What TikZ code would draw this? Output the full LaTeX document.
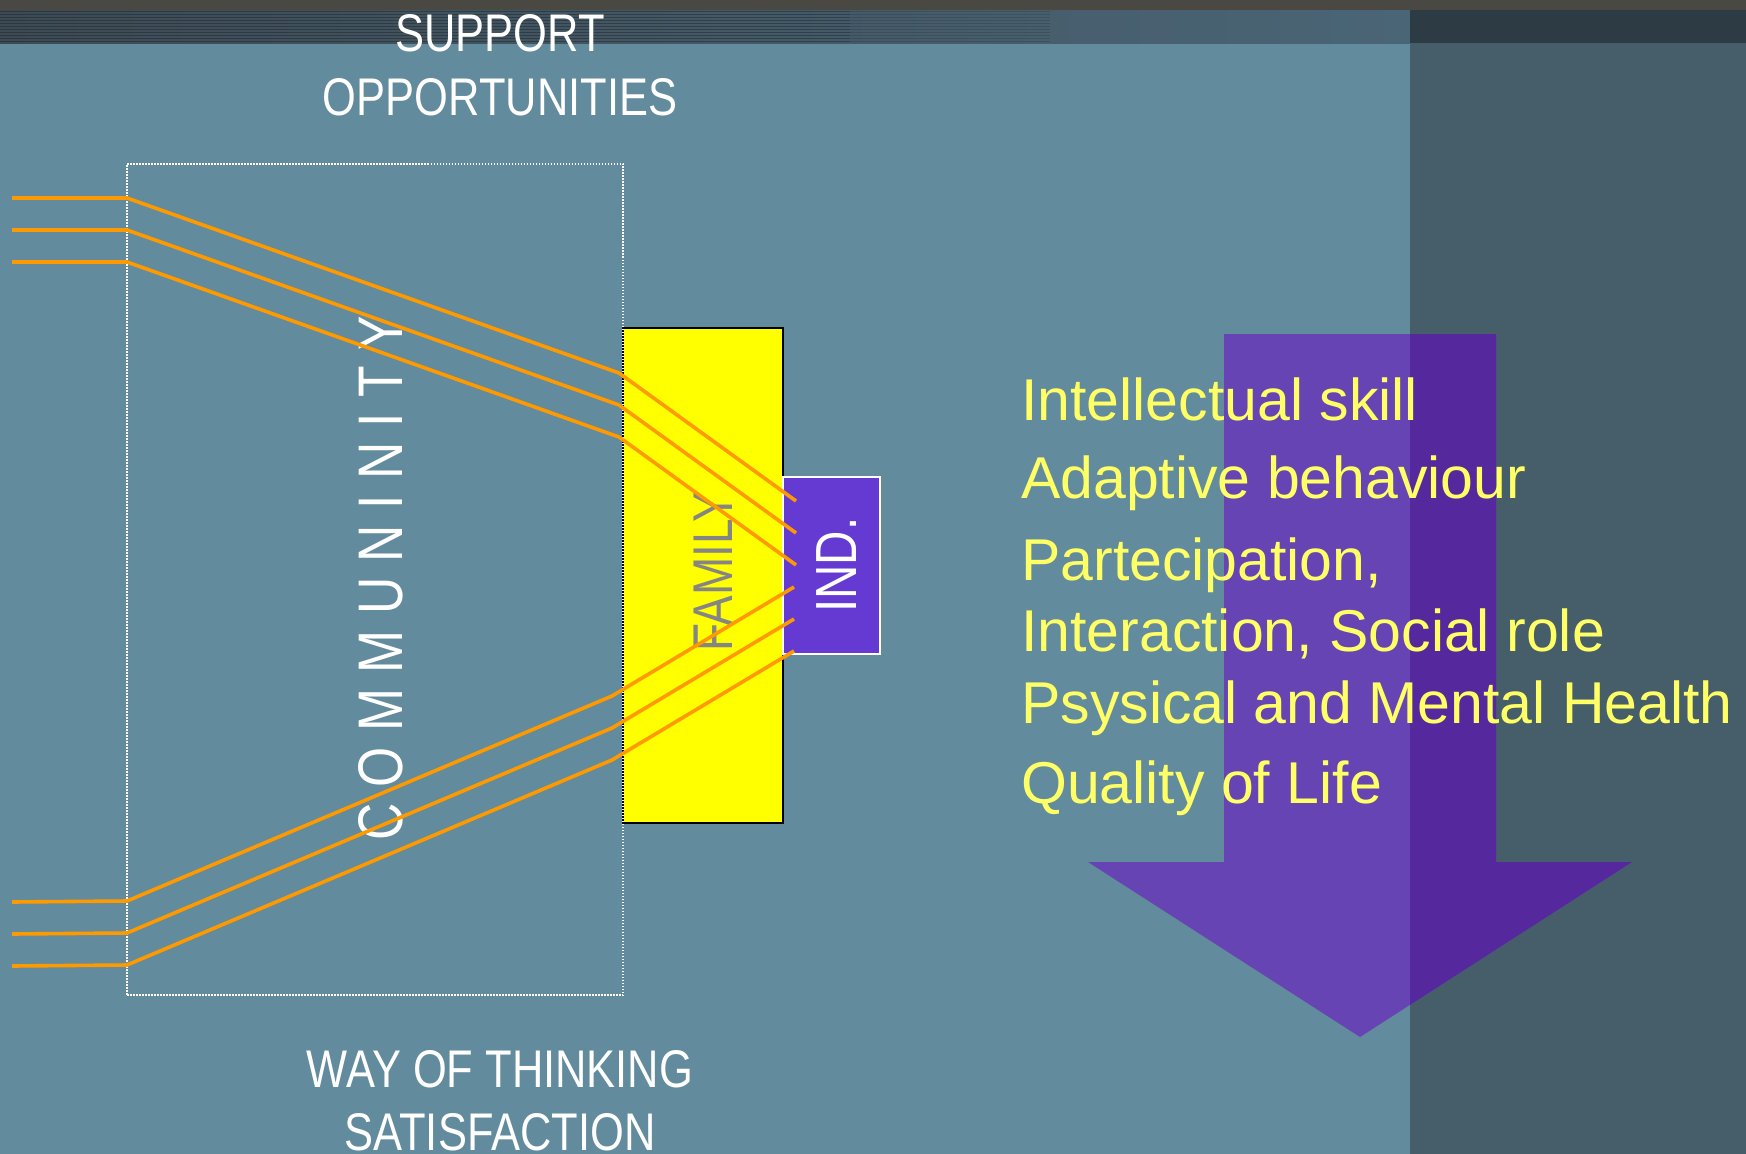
\documentclass[tikz,border=0pt]{standalone}
\usepackage{fontspec}
\setmainfont{Liberation Sans}
\newfontfamily\narrowfont[FakeStretch=0.82]{Liberation Sans}
\definecolor{bgblue}{HTML}{628B9D}
\definecolor{bgdark}{HTML}{465D6A}
\definecolor{bandbrown}{HTML}{4A4842}
\definecolor{bandleft}{HTML}{3D4A53}
\definecolor{bandmid}{HTML}{4A6576}
\definecolor{banddark}{HTML}{2C3B44}
\definecolor{stripecol}{HTML}{1F2A31}
\definecolor{arrowlight}{HTML}{6644B4}
\definecolor{arrowdark}{HTML}{55299D}
\definecolor{lineorange}{HTML}{FF9900}
\definecolor{indpurple}{HTML}{643AD3}
\definecolor{famgray}{HTML}{858585}
\definecolor{famyellow}{RGB}{255,255,0}
\definecolor{textyellow}{HTML}{FFFF66}
\def\bigarrowpath{(1224,334) -- (1496,334) -- (1496,862) -- (1632,862) -- (1360,1037) -- (1088,862) -- (1224,862) -- cycle}
\begin{document}
\begin{tikzpicture}[x=1pt,y=-1pt,
  labelnarrow/.style={text=white, font=\narrowfont\fontsize{53}{53}\selectfont, inner sep=0pt, anchor=base},
  listline/.style={text=textyellow, font=\fontsize{59}{59}\selectfont, inner sep=0pt, anchor=base west},
  orangeline/.style={draw=lineorange, line width=3.6pt, line join=round},
  dottedbox/.style={draw=white, line width=1.5pt, dash pattern=on 1.5pt off 1.5pt, minimum width=496pt, minimum height=831pt, inner sep=0pt, outer sep=0pt},
  familybox/.style={fill=famyellow, draw=black, line width=2pt, minimum width=160pt, minimum height=495pt, inner sep=0pt, outer sep=0pt},
  indbox/.style={fill=indpurple, draw=white, line width=2pt, minimum width=97pt, minimum height=177pt, inner sep=0pt, outer sep=0pt},
  vlabel/.style={rotate=90, inner sep=0pt},
]
% background
\fill[bgblue] (0,0) rectangle (1746,1154);
\useasboundingbox (0,0) rectangle (1746,1154);
% top band
\shade[left color=bandleft, right color=bandmid] (0,10) rectangle (1410,43);
\foreach \yy in {11,14,...,41} {
  \draw[stripecol, line width=1pt, opacity=0.55] (0,\yy) -- (850,\yy);
  \draw[stripecol, line width=1pt, opacity=0.25] (850,\yy) -- (1050,\yy);
}
\fill[bandbrown] (0,0) rectangle (1746,10);
\fill[banddark] (1410,10) rectangle (1746,43);
\fill[bgdark] (1410,43) rectangle (1746,1154);
% big arrow
\fill[arrowlight] \bigarrowpath;
\begin{scope}
  \clip (1410,0) rectangle (1746,1154);
  \fill[arrowdark] \bigarrowpath;
\end{scope}
% family and individual
\node[familybox] (family) at (703,575.5) {};
\node[vlabel, text=famgray, font=\narrowfont\fontsize{56}{56}\selectfont] (familylabel) at (713,572) {FAMILY};
\node[indbox] (ind) at (831.5,565.5) {};
\node[vlabel, text=white, font=\narrowfont\fontsize{58}{58}\selectfont] (indlabel) at (837,565) {IND.};
% community
\node[vlabel, text=white, font=\narrowfont\fontsize{63}{63}\selectfont] (communitylabel) at (380.5,578)
  {C\kern15.4pt O\kern15.4pt M\kern15.4pt M\kern15.4pt U\kern15.4pt N\kern15.4pt I\kern15.4pt N\kern15.4pt I\kern15.4pt T\kern15.4pt Y};
\node[dottedbox] (community) at (375,579.5) {};
% orange lines, top group
\coordinate (ta1) at (12,198);  \coordinate (tb1) at (127,198);  \coordinate (tc1) at (619,373); \coordinate (td1) at (796,501);
\coordinate (ta2) at (12,230);  \coordinate (tb2) at (127,230);  \coordinate (tc2) at (619,405); \coordinate (td2) at (796,533);
\coordinate (ta3) at (12,262);  \coordinate (tb3) at (127,262);  \coordinate (tc3) at (619,437); \coordinate (td3) at (796,565);
\draw[orangeline] (ta1) -- (tb1) -- (tc1) -- (td1);
\draw[orangeline] (ta2) -- (tb2) -- (tc2) -- (td2);
\draw[orangeline] (ta3) -- (tb3) -- (tc3) -- (td3);
% orange lines, bottom group
\coordinate (ba1) at (12,902);  \coordinate (bb1) at (127,901);  \coordinate (bc1) at (612,696); \coordinate (bd1) at (794,587);
\coordinate (ba2) at (12,934);  \coordinate (bb2) at (127,933);  \coordinate (bc2) at (612,728); \coordinate (bd2) at (794,619);
\coordinate (ba3) at (12,966);  \coordinate (bb3) at (127,965);  \coordinate (bc3) at (612,760); \coordinate (bd3) at (794,651);
\draw[orangeline] (ba1) -- (bb1) -- (bc1) -- (bd1);
\draw[orangeline] (ba2) -- (bb2) -- (bc2) -- (bd2);
\draw[orangeline] (ba3) -- (bb3) -- (bc3) -- (bd3);
% top and bottom labels
\node[labelnarrow] (support) at (500,51) {SUPPORT};
\node[labelnarrow] (opportunities) at (500,115) {OPPORTUNITIES};
\node[labelnarrow] (wayofthinking) at (500,1087) {WAY OF THINKING};
\node[labelnarrow] (satisfaction) at (500,1150) {SATISFACTION};
% outcome list
\node[listline] (l1) at (1021,420) {Intellectual skill};
\node[listline] (l2) at (1021,498) {Adaptive behaviour};
\node[listline] (l3) at (1021,580) {Partecipation,};
\node[listline] (l4) at (1021,651) {Interaction, Social role};
\node[listline] (l5) at (1021,723) {Psysical and Mental Health};
\node[listline] (l6) at (1021,803) {Quality of Life};
\end{tikzpicture}
\end{document}
